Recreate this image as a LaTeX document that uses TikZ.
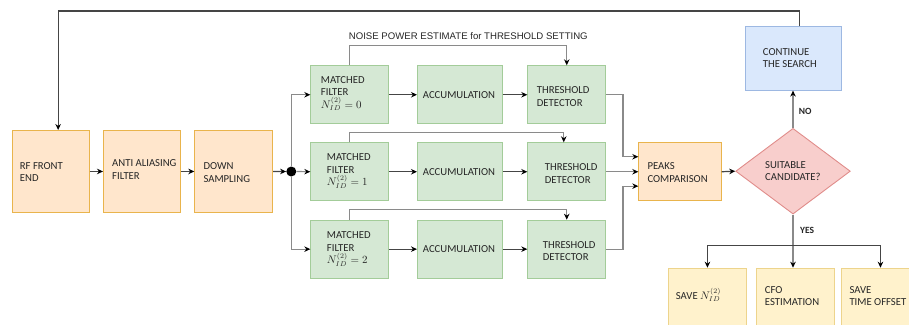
\documentclass[tikz,border=0pt]{standalone}
\usepackage{fontspec}
\setmainfont{Carlito}
\newfontfamily\arialf{Liberation Sans}
\usetikzlibrary{arrows.meta,shapes.geometric}
\definecolor{oF}{HTML}{FFE6CC}\definecolor{oD}{HTML}{E9B44C}
\definecolor{gF}{HTML}{D5E8D4}\definecolor{gD}{HTML}{A3CC99}
\definecolor{bF}{HTML}{DAE8FC}\definecolor{bD}{HTML}{9DB8E2}
\definecolor{rF}{HTML}{F8CECC}\definecolor{rD}{HTML}{E08C8A}
\definecolor{yF}{HTML}{FFF2CC}\definecolor{yD}{HTML}{EDD48C}
\definecolor{lineG}{HTML}{8A8A8A}\definecolor{lineD}{HTML}{454545}
\begin{document}
\begin{tikzpicture}[x=1pt,y=-1pt,
  box/.style={rectangle,draw,line width=0.9pt,inner sep=0pt,anchor=north west},
  obox/.style={box,fill=oF,draw=oD},
  gbox/.style={box,fill=gF,draw=gD},
  bbox/.style={box,fill=bF,draw=bD},
  ybox/.style={box,fill=yF,draw=yD},
  txt/.style={anchor=west,align=left,inner sep=0pt,font=\fontsize{10.7}{12.6}\selectfont,text=black!85},
  lbl/.style={anchor=west,inner sep=0pt,font=\fontsize{9.5}{11}\selectfont\bfseries,text=black!85},
  arr/.style={draw=lineG,line width=1.2pt,-{Stealth[length=6pt,width=5.5pt,black]}},
  darr/.style={draw=lineD,line width=1.2pt,-{Stealth[length=6pt,width=5.5pt,black]}}]
\clip (0,0) rectangle (909,324);
\useasboundingbox (0,0) rectangle (909,324);
% left chain
\node[obox,minimum width=77pt,minimum height=82pt] (rf) at (11.7,130) {};
\node[obox,minimum width=77pt,minimum height=82pt] (aa) at (103,130) {};
\node[obox,minimum width=78pt,minimum height=82pt] (ds) at (194.3,130) {};
\node[txt] (trf) at (19.7,172) {RF FRONT\\END};
\node[txt] (taa) at (112,169.5) {ANTI ALIASING\\FILTER};
\node[txt] (tds) at (203.3,172.3) {DOWN\\SAMPLING};
\node[circle,fill=black,inner sep=0pt,minimum size=10pt] (dot) at (291.3,171.5) {};
% matched filters
\node[gbox,minimum width=77.4pt,minimum height=58pt] (mf0) at (310.3,65.3) {};
\node[gbox,minimum width=77.4pt,minimum height=58pt] (mf1) at (310.3,142.3) {};
\node[gbox,minimum width=77.4pt,minimum height=58pt] (mf2) at (310.3,219.7) {};
\node[txt] (tmf0) at (320.7,93.5) {MATCHED\\FILTER\\$N_{ID}^{(2)}=0$};
\node[txt] (tmf1) at (326.7,171) {MATCHED\\FILTER\\$N_{ID}^{(2)}=1$};
\node[txt] (tmf2) at (326.7,249) {MATCHED\\FILTER\\$N_{ID}^{(2)}=2$};
% accumulation
\node[gbox,minimum width=84.7pt,minimum height=58pt] (ac0) at (417,65.3) {};
\node[gbox,minimum width=84.7pt,minimum height=58pt] (ac1) at (417,142.3) {};
\node[gbox,minimum width=84.7pt,minimum height=58pt] (ac2) at (417,219.7) {};
\node[txt] (tac0) at (422.7,95) {ACCUMULATION};
\node[txt] (tac1) at (422.7,172) {ACCUMULATION};
\node[txt] (tac2) at (422.7,249.5) {ACCUMULATION};
% threshold detectors
\node[gbox,minimum width=78pt,minimum height=58pt] (td0) at (527.3,65.3) {};
\node[gbox,minimum width=78pt,minimum height=58pt] (td1) at (527.3,142.3) {};
\node[gbox,minimum width=78pt,minimum height=58pt] (td2) at (527.3,219.7) {};
\node[txt] (ttd0) at (536.7,96.5) {THRESHOLD\\DETECTOR};
\node[txt] (ttd1) at (544.7,173.3) {THRESHOLD\\DETECTOR};
\node[txt] (ttd2) at (542.7,251) {THRESHOLD\\DETECTOR};
\node[anchor=west,inner sep=0pt,font=\arialf\fontsize{9.6}{11}\selectfont,text=black!85] (noise) at (348.7,35.7) {NOISE POWER ESTIMATE for THRESHOLD SETTING};
% right part
\node[obox,minimum width=82.4pt,minimum height=58pt] (pc) at (638.3,142.3) {};
\node[txt] (tpc) at (647.3,172.3) {PEAKS\\COMPARISON};
\node[diamond,draw=rD,fill=rF,line width=0.9pt,inner sep=0pt,minimum width=114.6pt,minimum height=85.7pt] (dia) at (793,171.2) {};
\node[txt] (tdia) at (765,171.2) {SUITABLE\\CANDIDATE?};
\node[bbox,minimum width=96.6pt,minimum height=63.4pt] (cs) at (744.7,26.3) {};
\node[txt] (tcs) at (762.7,58) {CONTINUE\\THE SEARCH};
\node[ybox,minimum width=78pt,minimum height=80pt] (sn) at (668,267.7) {};
\node[ybox,minimum width=78pt,minimum height=80pt] (cfo) at (756.3,267.7) {};
\node[ybox,minimum width=78pt,minimum height=80pt] (sto) at (841,267.7) {};
\node[txt] (tsn) at (675.7,295) {SAVE $N_{ID}^{(2)}$};
\node[txt] (tcfo) at (764.7,296) {CFO\\ESTIMATION};
\node[txt] (tsto) at (849.3,296) {SAVE\\TIME OFFSET};
\node[lbl] (no) at (798.7,111) {NO};
\node[lbl] (yes) at (800,230) {YES};
% connectors
\draw[darr] (rf.east) -- (aa.west);
\draw[darr] (aa.east) -- (ds.west);
\draw[darr] (ds.east) -- (dot.west);
\draw[arr] (dot.east) -- (mf1.west);
\draw[arr] (dot.north) |- (mf0.west);
\draw[arr] (dot.south) |- (mf2.west);
\foreach \i in {0,1,2}{
  \draw[darr] (mf\i.east) -- (ac\i.west);
  \draw[darr] (ac\i.east) -- (td\i.west);
}
\draw[arr] (mf0.north) -- ++(0,-19.6) -| (td0.north);
\draw[arr] (mf1.north) -- ++(0,-10) -| ([xshift=-3pt]td1.north);
\draw[arr] (mf2.north) -- ++(0,-10) -| (td2.north);
\draw[arr] (td0.east) -- ++(16.7,0) |- ([yshift=15pt]pc.west);
\draw[arr] (td1.east) -- (pc.west);
\draw[arr] (td2.east) -- ++(16.7,0) |- ([yshift=-14.4pt]pc.west);
\draw[darr] (pc.east) -- (dia.west);
\draw[arr] (dia.north) -- (dia.north |- cs.south);
\draw[arr] (dia.south) -- (dia.south |- cfo.north);
\coordinate (bj) at (793,245.3);
\draw[darr] (bj) -| (sn.north);
\draw[darr] (bj) -| (sto.north);
\draw[darr] ([xshift=6pt]cs.north) -- ++(0,-15.3) -| ([xshift=7.5pt]rf.north);
\end{tikzpicture}
\end{document}
